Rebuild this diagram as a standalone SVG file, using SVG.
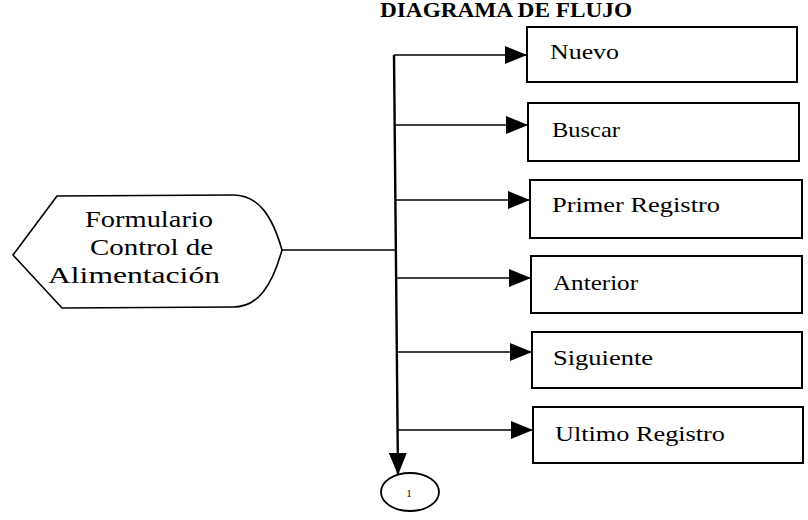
<svg xmlns="http://www.w3.org/2000/svg" width="808" height="520" viewBox="0 0 808 520">
<style>
.box{fill:#fff;stroke:#000;stroke-width:2}
.lbl{font-family:"Liberation Serif","Times New Roman",serif;font-size:22px;fill:#000}
.big{font-family:"Liberation Serif","Times New Roman",serif;font-size:24px;fill:#000}
.ttl{font-family:"Liberation Serif","Times New Roman",serif;font-size:20px;font-weight:bold;fill:#000}
.ln{fill:none;stroke:#000;stroke-width:1.4}
.vl{fill:none;stroke:#000;stroke-width:2.4}
</style>
<defs>
<marker id="ah" markerUnits="userSpaceOnUse" markerWidth="22" markerHeight="18" refX="22" refY="9" orient="auto">
<path d="M0,0 L22,9 L0,18 Z" fill="#000"/>
</marker>
</defs>
<rect width="808" height="520" fill="#fff"/>
<text class="ttl" x="380" y="17" textLength="252" lengthAdjust="spacingAndGlyphs">DIAGRAMA DE FLUJO</text>

<g id="formulario">
<path d="M13,255 L57,196 L233,195 C258,195 272,215 282,250 C272,286 258,307 233,307 L62,308 Z" fill="#fff" stroke="#000" stroke-width="1.6"/>
<text class="big" x="85" y="227" textLength="128" lengthAdjust="spacingAndGlyphs">Formulario</text>
<text class="big" x="90" y="255" textLength="123" lengthAdjust="spacingAndGlyphs">Control de</text>
<text class="big" x="48" y="283" textLength="172" lengthAdjust="spacingAndGlyphs">Alimentación</text>
</g>

<g id="nuevo">
<rect class="box" x="527" y="27" width="270" height="55"/>
<text class="lbl" x="550" y="59" textLength="69" lengthAdjust="spacingAndGlyphs">Nuevo</text>
</g>
<g id="buscar">
<rect class="box" x="528" y="103" width="271" height="58"/>
<text class="lbl" x="552" y="137" textLength="68" lengthAdjust="spacingAndGlyphs">Buscar</text>
</g>
<g id="primer">
<rect class="box" x="530" y="180" width="272" height="58"/>
<text class="lbl" x="552" y="212" textLength="168" lengthAdjust="spacingAndGlyphs">Primer Registro</text>
</g>
<g id="anterior">
<rect class="box" x="531" y="256" width="271" height="57"/>
<text class="lbl" x="553" y="290" textLength="85" lengthAdjust="spacingAndGlyphs">Anterior</text>
</g>
<g id="siguiente">
<rect class="box" x="532" y="332" width="270" height="56"/>
<text class="lbl" x="553" y="365" textLength="100" lengthAdjust="spacingAndGlyphs">Siguiente</text>
</g>
<g id="ultimo">
<rect class="box" x="533" y="407" width="270" height="56"/>
<text class="lbl" x="555" y="441" textLength="170" lengthAdjust="spacingAndGlyphs">Ultimo Registro</text>
</g>

<g id="conector">
<ellipse cx="410" cy="492" rx="29" ry="19" fill="#fff" stroke="#000" stroke-width="1.8"/>
<text x="409" y="497" font-family="Liberation Serif, serif" font-size="11" text-anchor="middle">1</text>
</g>

<g id="connectors">
<line class="ln" x1="282" y1="250" x2="396" y2="250"/>
<line class="vl" x1="394" y1="55" x2="398" y2="475" marker-end="url(#ah)"/>
<line class="ln" x1="394" y1="55" x2="527" y2="55" marker-end="url(#ah)"/>
<line class="ln" x1="395" y1="125" x2="528" y2="125" marker-end="url(#ah)"/>
<line class="ln" x1="395" y1="200" x2="530" y2="200" marker-end="url(#ah)"/>
<line class="ln" x1="396" y1="278" x2="531" y2="278" marker-end="url(#ah)"/>
<line class="ln" x1="397" y1="352" x2="532" y2="352" marker-end="url(#ah)"/>
<line class="ln" x1="397" y1="430" x2="533" y2="430" marker-end="url(#ah)"/>
</g>
</svg>
